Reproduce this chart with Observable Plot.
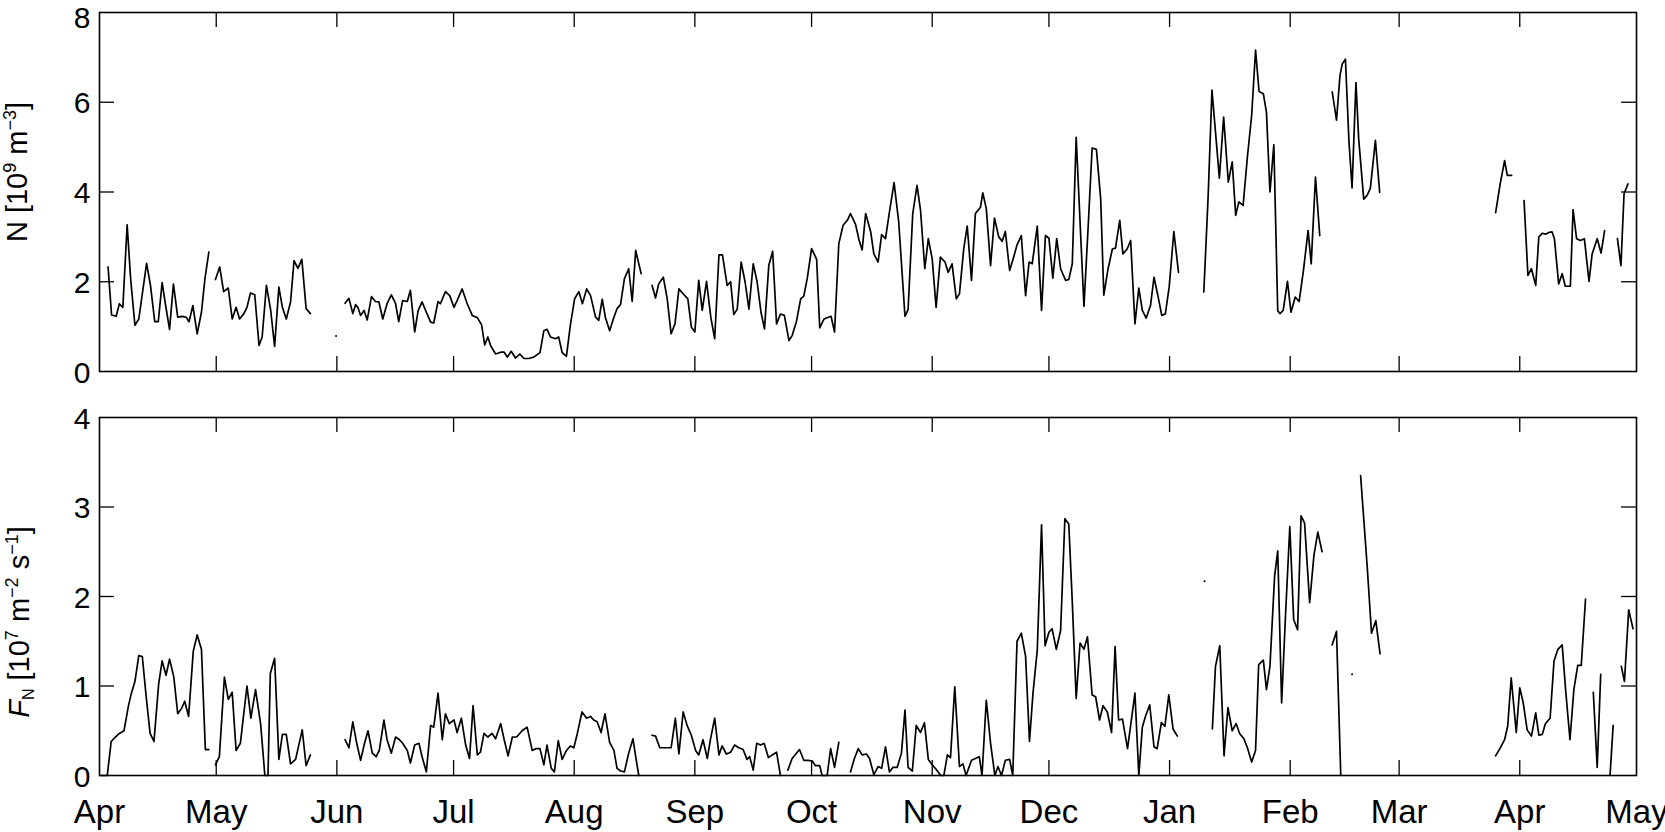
<!DOCTYPE html>
<html><head><meta charset="utf-8">
<script src="https://cdn.jsdelivr.net/npm/d3@7"></script>
<script src="https://cdn.jsdelivr.net/npm/@observablehq/plot@0.6"></script>
<style>
html,body{margin:0;padding:0;background:#fff}
#chart{width:1665px}
#chart svg{display:block}
</style>
</head><body><div id="chart"></div>
<script>
// ---- data (day offset from 1 Apr, value); null = gap in record ----
const monthLabels = ["Apr","May","Jun","Jul","Aug","Sep","Oct","Nov","Dec","Jan","Feb","Mar","Apr","May"];
const nTicks = [0, 2, 4, 6, 8];
const fTicks = [0, 1, 2, 3, 4];

const nSeries = [
 [2.2,2.33],[3.1,1.26],[4.3,1.23],[5.1,1.51],[6.0,1.43],[7.1,3.27],[8.0,2.07],[9.1,1.03],[10.1,1.17],[12.1,2.41],[13.1,1.92],[14.2,1.11],[15.1,1.11],[16.1,1.98],[17.0,1.47],[18.0,0.94],[19.0,1.95],[20.1,1.21],[21.4,1.23],[22.3,1.21],[23.0,1.11],[24.0,1.47],[25.1,0.84],[26.2,1.32],[27.1,2.07],[28.1,2.66],
 null,
 [29.8,2.05],[30.9,2.33],[31.9,1.78],[33.1,1.86],[34.1,1.17],[35.1,1.43],[36.0,1.17],[37.1,1.29],[37.9,1.43],[38.8,1.75],[39.9,1.71],[41.0,0.58],[41.8,0.77],[42.9,1.92],[44.0,1.36],[45.0,0.56],[46.1,1.88],[47.0,1.43],[48.0,1.17],[49.1,1.55],[50.0,2.47],[51.0,2.30],[52.0,2.50],[53.1,1.40],[54.2,1.29],
 null,
 [63.1,1.52],[64.1,1.63],[65.1,1.29],[65.8,1.49],[66.4,1.43],[67.1,1.25],[68.0,1.36],[68.8,1.15],[69.9,1.67],[70.9,1.56],[71.8,1.55],[72.8,1.17],[73.9,1.51],[75.0,1.71],[76.1,1.51],[76.9,1.11],[77.9,1.58],[79.1,1.56],[79.9,1.81],[81.0,0.88],[81.9,1.36],[82.9,1.55],[84.0,1.32],[85.1,1.10],[85.9,1.08],[87.0,1.56],[87.6,1.51],[88.9,1.78],[90.0,1.69],[91.1,1.43],[91.9,1.58],[93.2,1.84],[94.5,1.51],[95.8,1.25],[97.1,1.20],[98.2,1.04],[99.0,0.59],[99.8,0.77],[100.5,0.58],[101.8,0.39],[103.1,0.43],[104.0,0.43],[104.8,0.32],[105.8,0.45],[106.9,0.30],[108.0,0.39],[109.1,0.29],[110.3,0.29],[111.6,0.32],[113.2,0.42],[114.2,0.91],[115.0,0.94],[115.9,0.77],[117.2,0.73],[118.0,0.77],[118.9,0.42],[120.0,0.34],[121.0,1.03],[122.1,1.62],[123.2,1.78],[124.1,1.51],[125.2,1.84],[126.2,1.69],[127.5,1.21],[128.3,1.14],[129.2,1.61],[130.0,1.21],[131.1,0.91],[132.2,1.21],[133.0,1.40],[133.9,1.49],[134.9,2.07],[136.0,2.29],[136.9,1.56],[137.8,2.70],[138.4,2.47],[139.2,2.18],
 null,
 [142.0,1.92],[142.9,1.64],[143.7,1.95],[144.9,2.10],[145.9,1.62],[146.9,0.84],[147.9,1.06],[148.9,1.84],[149.8,1.75],[151.2,1.62],[152.1,0.99],[153.0,0.88],[154.0,2.03],[154.9,1.36],[156.0,2.01],[157.1,1.21],[158.1,0.73],[159.2,2.60],[160.1,2.60],[161.3,1.92],[162.2,2.00],[163.0,1.27],[163.9,1.39],[164.9,2.44],[165.9,2.00],[166.9,1.39],[168.0,2.40],[169.0,2.00],[170.0,1.32],[170.9,0.95],[172.0,2.36],[173.0,2.68],[174.0,1.06],[175.0,1.28],[176.0,1.25],[177.2,0.69],[178.0,0.80],[179.1,1.11],[180.2,1.62],[181.0,1.68],[181.9,2.08],[183.0,2.74],[184.3,2.50],[185.1,0.97],[186.2,1.17],[187.3,1.21],[188.0,1.23],[188.9,0.88],[190.0,2.85],[191.1,3.26],[192.2,3.37],[193.0,3.52],[194.3,3.28],[195.2,2.93],[196.0,2.71],[196.9,3.52],[198.2,3.11],[199.0,2.62],[200.1,2.44],[201.0,3.05],[202.0,2.96],[203.0,3.55],[204.2,4.21],[205.4,3.33],[207.0,1.23],[207.8,1.38],[209.0,3.52],[210.1,4.15],[211.0,3.59],[212.1,2.29],[213.0,2.96],[214.0,2.51],[215.0,1.43],[216.1,2.55],[217.3,2.44],[218.1,2.21],[219.1,2.40],[220.2,1.62],[221.0,1.73],[222.1,2.73],[223.0,3.24],[224.1,2.03],[225.1,3.52],[226.4,3.66],[227.0,3.98],[227.9,3.63],[229.0,2.36],[230.0,3.42],[231.1,3.00],[232.0,2.90],[232.8,3.12],[233.9,2.25],[235.0,2.57],[235.8,2.82],[236.9,3.03],[238.0,1.69],[238.9,2.44],[239.7,2.40],[241.0,3.24],[242.1,1.36],[243.1,3.03],[244.0,2.97],[245.0,2.08],[246.0,2.96],[247.0,2.29],[248.3,2.03],[249.1,2.05],[250.0,2.40],[251.0,5.22],[252.0,3.33],[253.0,1.45],[254.1,3.26],[255.1,4.98],[256.2,4.95],[257.3,3.85],[258.1,1.70],[259.2,2.29],[260.3,2.73],[261.1,2.75],[262.2,3.37],[263.0,2.62],[264.1,2.73],[265.0,2.92],[266.1,1.06],[267.1,1.86],[268.0,1.36],[269.0,1.19],[270.1,1.47],[271.0,2.10],[272.0,1.69],[273.0,1.25],[273.9,1.28],[274.9,1.88],[276.1,3.12],[277.3,2.21],
 null,
 [283.8,1.77],[284.9,3.87],[285.9,6.27],[286.8,5.34],[287.8,4.31],[288.9,5.67],[290.1,4.22],[291.1,4.67],[292.0,3.48],[292.8,3.78],[293.9,3.70],[295.0,4.78],[296.1,5.71],[297.1,7.16],[298.0,6.24],[299.1,6.19],[299.9,5.78],[300.8,4.00],[301.8,5.05],[302.8,1.35],[303.4,1.29],[304.2,1.36],[305.3,2.01],[306.2,1.32],[307.3,1.66],[308.3,1.56],[309.4,2.25],[310.6,3.14],[311.4,2.40],[312.5,4.33],[313.6,3.03],
 null,
 [316.8,6.23],[317.9,5.60],[318.8,6.60],[319.4,6.86],[320.2,6.96],[321.1,5.13],[321.9,4.09],[322.9,6.44],[323.6,5.19],[324.9,3.84],[325.8,3.93],[326.6,4.08],[327.9,5.15],[329.0,3.99],
 null,
 [358.8,3.54],[359.9,4.15],[361.1,4.70],[361.8,4.37],[362.9,4.37],
 null,
 [366.1,3.81],[367.1,2.14],[368.0,2.29],[369.1,1.92],[369.9,3.00],[370.8,3.08],[371.6,3.06],[372.5,3.10],[373.3,3.11],[373.9,2.96],[375.0,1.95],[375.9,2.18],[376.7,1.90],[378.0,1.90],[378.7,3.61],[379.6,2.96],[380.6,2.92],[381.6,2.96],[382.8,2.01],[383.6,2.62],[384.9,2.96],[385.9,2.64],[386.8,3.14],
 null,
 [390.1,2.96],[391.0,2.36],[391.8,3.96],[392.8,4.18]
];
const nIsolated = [[60.8,0.79]];

const fSeries = [
 [0.3,0],[2.0,0],[3.0,0.38],[4.1,0.43],[5.1,0.47],[6.3,0.50],[7.4,0.77],[8.2,0.92],[9.1,1.05],[10.1,1.34],[11.0,1.33],[12.0,0.88],[13.0,0.47],[14.0,0.38],[15.2,1.02],[16.1,1.28],[17.1,1.12],[18.0,1.30],[19.1,1.10],[20.1,0.69],[21.1,0.75],[21.9,0.83],[22.9,0.66],[24.1,1.39],[25.1,1.57],[26.2,1.41],[27.2,0.29],[28.1,0.29],
 null,
 [29.8,0.12],[30.8,0.21],[32.1,1.10],[33.1,0.85],[34.1,0.93],[35.1,0.28],[36.2,0.36],[37.9,1.00],[38.9,0.64],[40.1,0.96],[41.4,0.58],[42.5,0],[43.3,0],[43.9,1.14],[45.0,1.31],[46.1,0.18],[47.0,0.46],[48.0,0.46],[49.1,0.13],[50.4,0.18],[52.1,0.51],[53.1,0.11],[54.2,0.23],
 null,
 [63.1,0.40],[64.1,0.31],[65.1,0.60],[66.1,0.36],[67.1,0.17],[68.0,0.34],[69.0,0.50],[70.1,0.25],[71.1,0.21],[71.9,0.28],[73.1,0.62],[73.9,0.40],[75.0,0.25],[76.1,0.43],[77.1,0.40],[77.9,0.36],[79.1,0.28],[79.9,0.14],[81.0,0.34],[82.1,0.36],[82.9,0.21],[84.0,0.04],[85.1,0.56],[85.9,0.54],[87.0,0.92],[88.1,0.40],[88.9,0.69],[89.9,0.58],[91.1,0.62],[91.9,0.48],[93.0,0.64],[94.1,0.34],[95.1,0.19],[96.0,0.78],[97.1,0.23],[97.9,0.26],[98.8,0.47],[99.8,0.43],[100.9,0.47],[101.8,0.41],[103.1,0.58],[104.0,0.40],[105.0,0.22],[106.1,0.43],[107.2,0.43],[108.6,0.50],[109.9,0.54],[111.2,0.28],[112.1,0.30],[113.2,0.30],[114.2,0.12],[115.0,0.34],[116.1,0.08],[116.9,0.04],[117.9,0.39],[118.9,0.18],[120.0,0.28],[121.0,0.33],[121.9,0.31],[122.8,0.47],[124.0,0.71],[125.2,0.64],[126.2,0.66],[127.0,0.62],[127.9,0.60],[128.9,0.48],[129.9,0.69],[131.1,0.37],[132.2,0.28],[133.0,0.08],[133.9,0.05],[134.9,0.04],[136.0,0.25],[137.1,0.41],[137.8,0.21],[138.6,0],
 null,
 [142.0,0.45],[142.9,0.44],[144.0,0.31],[145.5,0.31],[146.9,0.31],[148.0,0.64],[148.9,0.24],[150.0,0.71],[151.0,0.56],[152.1,0.45],[153.2,0.28],[154.0,0.23],[155.1,0.40],[156.2,0.19],[157.0,0.40],[158.1,0.64],[159.2,0.23],[160.0,0.33],[161.1,0.24],[162.2,0.26],[163.2,0.34],[164.3,0.31],[165.4,0.29],[166.4,0.18],[167.1,0.21],[168.0,0.06],[168.9,0.36],[169.9,0.34],[170.8,0.36],[171.9,0.20],[172.9,0.23],[174.0,0.26],[175.0,0],
 null,
 [176.9,0.06],[178.0,0.19],[179.9,0.29],[181.0,0.17],[182.1,0.17],[183.2,0.16],[184.0,0.11],[185.1,0.11],[185.7,0],[187.0,0],[187.9,0.30],[188.9,0.09],[190.0,0.37],
 null,
 [193.0,0.04],[194.0,0.19],[195.0,0.30],[196.0,0.23],[197.1,0.24],[197.9,0.19],[199.0,0.01],[200.1,0.10],[201.0,0.08],[202.0,0.32],[203.0,0.04],[203.9,0.09],[205.0,0.09],[206.1,0.25],[207.0,0.73],[207.8,0.09],[208.9,0.05],[209.9,0.56],[211.0,0.48],[212.0,0.59],[213.0,0.18],[214.0,0.12],[215.0,0.07],[216.2,0],[217.0,0],[217.9,0.23],[218.7,0.20],[219.8,0.99],[221.0,0.10],[221.9,0.13],[222.7,0],[224.1,0.17],[225.1,0.19],[226.1,0.21],[226.8,0],[227.9,0.84],[229.0,0.36],[230.1,0],[230.9,0.10],[231.8,0],[232.8,0.17],[233.9,0.18],[234.7,0],[235.8,1.50],[236.9,1.59],[238.0,1.33],[239.0,0.38],[239.9,0.92],[241.0,1.40],[242.1,2.80],[243.0,1.45],[244.0,1.60],[244.8,1.64],[245.9,1.41],[247.0,1.62],[248.1,2.87],[249.1,2.81],[250.0,1.94],[251.0,0.86],[252.0,1.48],[253.0,1.41],[253.9,1.55],[255.1,0.90],[256.0,0.88],[257.0,0.62],[257.9,0.78],[259.0,0.71],[260.1,0.48],[261.0,1.44],[261.9,0.62],[262.9,0.63],[264.2,0.30],[265.0,0.56],[266.1,0.92],[267.1,0],[268.0,0.54],[268.8,0.66],[269.9,0.79],[271.0,0.32],[271.8,0.30],[272.9,0.59],[273.8,0.55],[274.8,0.90],[275.9,0.52],[277.0,0.44],
 null,
 [286.0,0.52],[286.8,1.22],[287.9,1.45],[289.0,0.22],[290.0,0.76],[291.1,0.50],[292.1,0.58],[293.0,0.47],[294.1,0.41],[295.0,0.31],[296.1,0.15],[297.1,0.28],[297.9,1.24],[299.1,1.29],[299.9,0.96],[300.8,1.22],[302.0,2.23],[302.8,2.51],[303.8,0.81],[304.8,1.79],[305.9,2.78],[306.9,1.74],[307.9,1.63],[308.8,2.90],[309.7,2.82],[311.0,1.93],[312.1,2.46],[313.1,2.72],[314.2,2.50],
 null,
 [316.8,1.46],[317.9,1.61],[319.0,0],
 null,
 [324.1,3.35],[325.8,2.33],[326.9,1.59],[328.0,1.73],[329.1,1.36],
 null,
 [358.8,0.22],[359.9,0.30],[361.1,0.40],[361.9,0.55],[362.8,1.09],[364.1,0.48],[365.0,0.98],[365.9,0.81],[366.9,0.51],[368.0,0.44],[369.1,0.70],[369.9,0.45],[370.8,0.46],[371.6,0.58],[372.8,0.64],[373.8,1.28],[374.8,1.41],[375.9,1.46],[376.8,0.95],[377.9,0.40],[378.9,0.96],[379.9,1.23],[380.8,1.23],[381.9,1.97],
 null,
 [383.9,0.93],[384.9,0.09],[385.8,1.13],
 null,
 [388.2,0],[389.0,0.56],
 null,
 [391.1,1.22],[391.9,1.05],[393.0,1.85],[394.1,1.64]
];
const fIsolated = [[284.0,2.17],[321.9,1.13]];

// ---- helpers ----
const START = Date.UTC(2001, 3, 1);
const END = Date.UTC(2002, 4, 1);
const toDate = (day) => new Date(START + day * 864e5);
const toRows = (series) => series.map(p => p ? {date: toDate(p[0]), v: p[1]} : {date: new Date(START), v: NaN});
const months = d3.utcMonth.range(new Date(START), new Date(END + 864e5));
const monthName = (d) => monthLabels[d3.utcMonth.count(new Date(START), d)];

const FONT = '"Liberation Sans", Arial, Helvetica, sans-serif';
const W = 1665, ML = 99, MR = 29;
const innerW = W - ML - MR;
const TICK = 15;

function panel({series, isolated, yDomain, yTicks, height, marginTop, marginBottom, showX, topLabelShift}) {
  const innerH = height - marginTop - marginBottom;
  const inner = yTicks.filter(t => t !== yDomain[0] && t !== yDomain[1]);
  const innerMonths = months.slice(1, -1);
  const yAxisOpts = {anchor: "left", tickSize: 0, tickPadding: 9, label: null, tickFormat: d3.format("d"), fontSize: 30, fill: "#000"};
  const marks = [
    Plot.line(toRows(series), {x: "date", y: "v", stroke: "#000", strokeWidth: 1.7, strokeLinejoin: "round"}),
    Plot.dot(isolated.map(p => ({date: toDate(p[0]), v: p[1]})), {x: "date", y: "v", r: 1, fill: "#000"}),
    Plot.ruleX(innerMonths, {x: d => d, insetTop: innerH - TICK, stroke: "#000", strokeWidth: 1.3}),
    Plot.ruleX(innerMonths, {x: d => d, insetBottom: innerH - TICK, stroke: "#000", strokeWidth: 1.3}),
    Plot.ruleY(inner, {y: d => d, insetRight: innerW - TICK, stroke: "#000", strokeWidth: 1.3}),
    Plot.ruleY(inner, {y: d => d, insetLeft: innerW - TICK, stroke: "#000", strokeWidth: 1.3}),
    Plot.frame({stroke: "#000", strokeWidth: 1.6}),
    Plot.axisY(yTicks.slice(0, -1), {...yAxisOpts, dy: 1.5}),
    Plot.axisY(yTicks.slice(-1), {...yAxisOpts, dy: 1.5 + topLabelShift})
  ];
  if (showX) marks.push(Plot.axisX(months, {anchor: "bottom", tickSize: 0, tickPadding: 24, label: null, tickFormat: monthName, fontSize: 33, fill: "#000"}));
  return Plot.plot({
    width: W, height, marginLeft: ML, marginRight: MR, marginTop, marginBottom,
    style: {fontFamily: FONT, fontSize: "33px", color: "#000", background: "#fff", overflow: "visible"},
    x: {type: "utc", domain: [new Date(START), new Date(END)], axis: showX ? undefined : null},
    y: {domain: yDomain},
    marks
  });
}

function addYLabel(svg, x, y, parts) {
  const t = d3.select(svg).append("text")
    .attr("transform", `translate(${x},${y}) rotate(-90)`)
    .attr("text-anchor", "middle")
    .attr("font-family", FONT).attr("font-size", 29).attr("fill", "#000");
  for (const p of parts) {
    const s = t.append("tspan").text(p.t);
    if (p.sup) s.attr("font-size", 18).attr("baseline-shift", "11");
    if (p.sub) s.attr("font-size", 16).attr("baseline-shift", "-5");
    if (p.italic) s.attr("font-style", "italic");
  }
}

const topPanel = panel({series: nSeries, isolated: nIsolated, yDomain: [0, 8], yTicks: nTicks, height: 394, marginTop: 12, marginBottom: 23, showX: false, topLabelShift: 4.5});
addYLabel(topPanel, 27, 172, [{t: "N [10"}, {t: "9", sup: true}, {t: " m"}, {t: "\u22123", sup: true}, {t: "]"}]);

const bottomPanel = panel({series: fSeries, isolated: fIsolated, yDomain: [0, 4], yTicks: fTicks, height: 438, marginTop: 23, marginBottom: 57, showX: true, topLabelShift: 0});
addYLabel(bottomPanel, 29, 622 - 394, [{t: "F", italic: true}, {t: "N", sub: true}, {t: " [10"}, {t: "7", sup: true}, {t: " m"}, {t: "\u22122", sup: true}, {t: " s"}, {t: "\u22121", sup: true}, {t: "]"}]);

document.getElementById("chart").append(topPanel, bottomPanel);
</script>
</body></html>
